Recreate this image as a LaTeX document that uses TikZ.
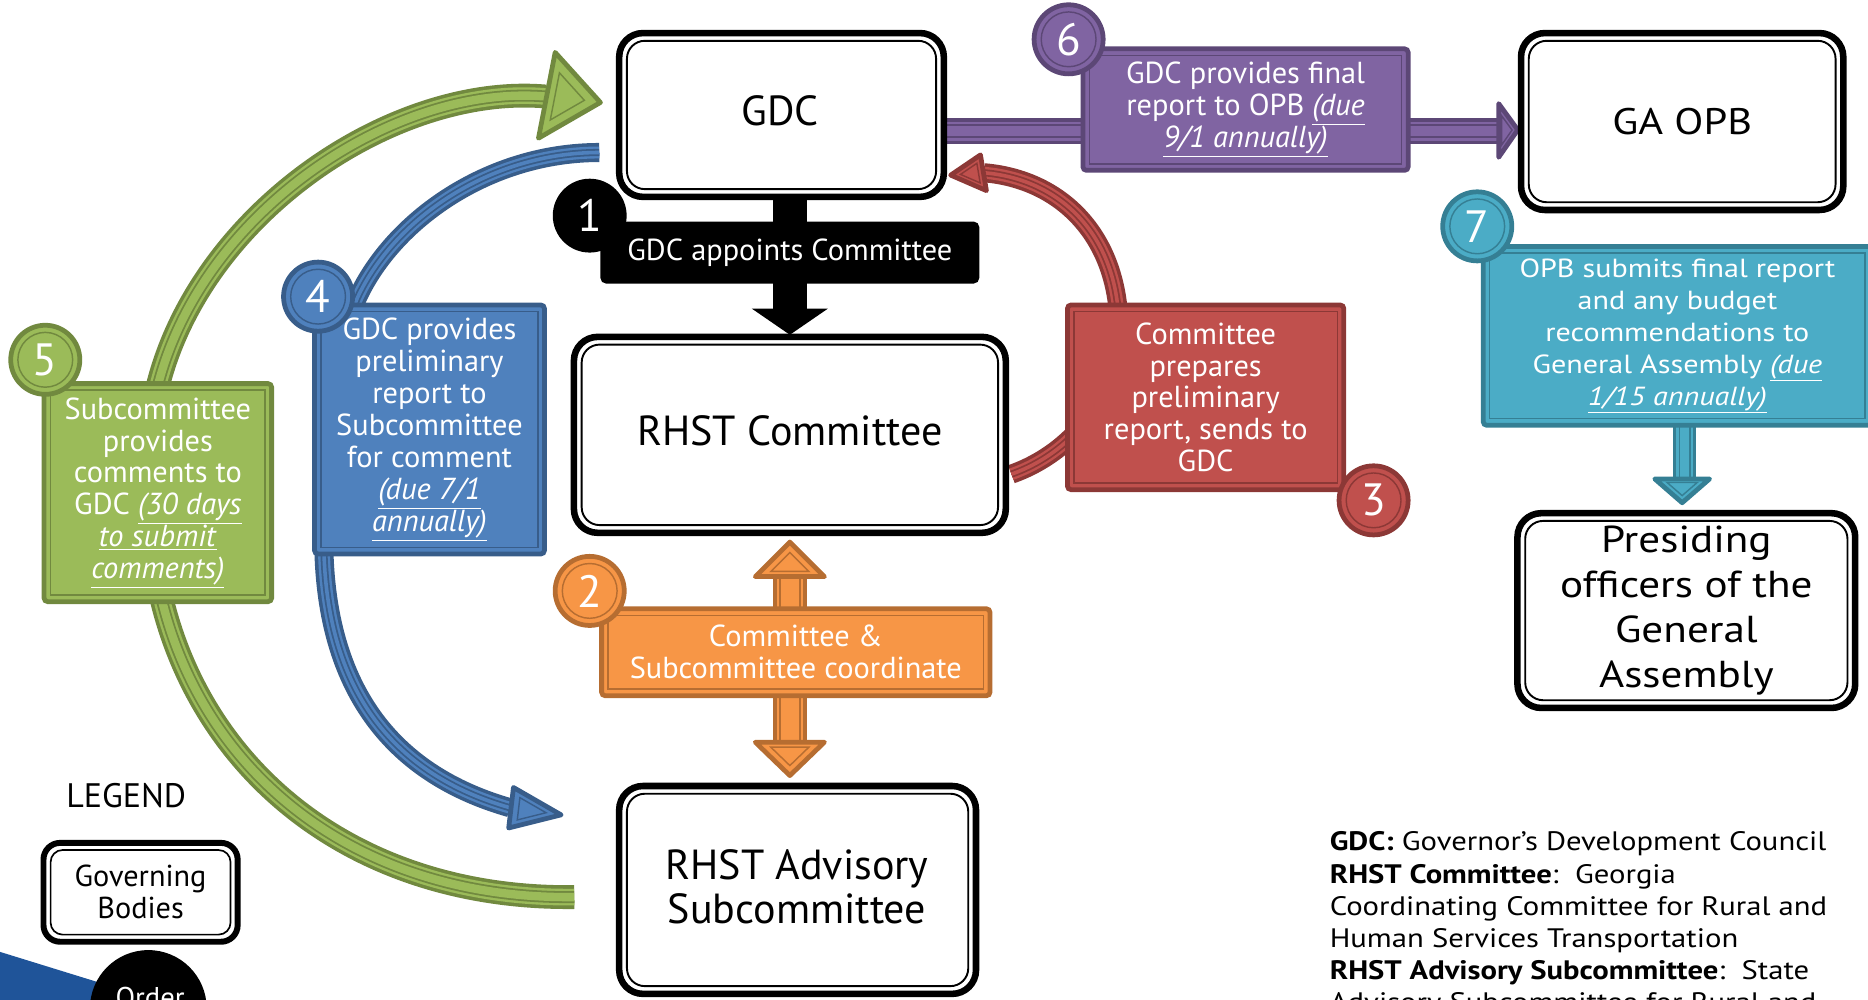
\documentclass[tikz,border=0pt]{standalone}
\usepackage{fontspec}
\setmainfont{PT Sans}
\newfontfamily\widesans{PT Sans}[FakeStretch=1.15]
\usetikzlibrary{calc}
\definecolor{gfill}{HTML}{9BBB59}\definecolor{gdark}{HTML}{71893F}
\definecolor{bfill}{HTML}{4F81BD}\definecolor{bdark}{HTML}{385D8A}
\definecolor{rfill}{HTML}{C0504D}\definecolor{rdark}{HTML}{8C3836}
\definecolor{pfill}{HTML}{8064A2}\definecolor{pdark}{HTML}{5C4776}
\definecolor{ofill}{HTML}{F79646}\definecolor{odark}{HTML}{B66D31}
\definecolor{tfill}{HTML}{4BACC6}\definecolor{tdark}{HTML}{357F94}
\definecolor{wedgeblue}{HTML}{1F5499}
\newcommand\ul[1]{\underline{#1}}
\newcommand\shaft[4]{%
  \draw[#2, line width=#3] #4;
  \draw[#1, line width=#3-6] #4;
  \draw[#2, line width=#3-10] #4;
  \draw[#1, line width=#3-13] #4;}
\newcommand\ahead[5]{%
  \path #3 coordinate (ha) #4 coordinate (hb) #5 coordinate (ht);
  \coordinate (hc) at (barycentric cs:ha=1,hb=1,ht=1);
  \filldraw[fill=#1, draw=#2, line width=4, line join=round] (ha) -- (hb) -- (ht) -- cycle;
  \draw[#2, line width=1.2] ($(hc)!0.55!(ha)$) -- ($(hc)!0.55!(hb)$) -- ($(hc)!0.55!(ht)$) -- cycle;}
\newcommand\wframe[2]{\draw[line width=1.6, rounded corners=#2] ([shift={(6.5,6.5)}]#1.north west) rectangle ([shift={(-6.5,-6.5)}]#1.south east);}
\newcommand\cframe[2]{\draw[#2, line width=1.2] ([shift={(5.5,5.5)}]#1.north west) rectangle ([shift={(-5.5,-5.5)}]#1.south east);}
\newcommand\ring[2]{\draw[#2, line width=1.2] (#1.center) circle (23);}
\begin{document}
\begin{tikzpicture}[x=1pt,y=-1pt,
  wbox/.style={draw=black, line width=5.5, rounded corners=20, fill=white, outer sep=0pt, inner sep=0pt, align=center, font=\fontsize{35.3}{37}\selectfont},
  wtext/.style={inner sep=0pt, align=center, font=\fontsize{35.3}{37}\selectfont},
  cbox/.style 2 args={draw=#2, fill=#1, line width=4, rounded corners=3, outer sep=0pt, inner sep=0pt, align=center, text=white, font=\fontsize{25.5}{26.8}\selectfont},
  badge/.style 2 args={circle, draw=#2, fill=#1, line width=4, minimum size=58, inner sep=0pt, outer sep=0pt, text=white, font=\fontsize{38}{38}\selectfont},
  deftext/.style={anchor=north west, align=left, inner sep=0pt, font=\widesans\fontsize{22.4}{27}\selectfont}]
\useasboundingbox (0,0) rectangle (1568,839);

% ---- connectors (drawn first, under boxes) ----
\coordinate (g0) at (482,753); \coordinate (g1) at (458,81);
\shaft{gfill}{gdark}{20}{(g0) .. controls (300,755) and (170,650) .. (135,500) -- (131,330) .. controls (165,180) and (330,70) .. (g1)}
\ahead{gfill}{gdark}{(466,44)}{(452,116)}{(504,86)}

\coordinate (b0) at (503,128); \coordinate (b1) at (428,678);
\shaft{bfill}{bdark}{16}{(b0) .. controls (410,128) and (330,185) .. (300,250) .. controls (280,300) and (270,400) .. (272,466) .. controls (276,580) and (330,650) .. (b1)}
\ahead{bfill}{bdark}{(431,661)}{(427,695)}{(471,684)}

\coordinate (r0) at (849,398); \coordinate (r1) at (826,145);
\shaft{rfill}{rdark}{16}{(r0) .. controls (900,380) and (945,330) .. (938,255) .. controls (930,190) and (885,150) .. (r1)}
\ahead{rfill}{rdark}{(823,130)}{(828,160)}{(798,147)}

\coordinate (p0) at (795,110); \coordinate (p1) at (1258,110);
\shaft{pfill}{pdark}{22}{(p0) -- (p1)}
\ahead{pfill}{pdark}{(1258,87)}{(1258,132)}{(1274,109)}

\coordinate (o0) at (663,484); \coordinate (o1) at (663,623);
\shaft{ofill}{odark}{28}{(o0) -- (o1)}
\ahead{ofill}{odark}{(634,484)}{(692,484)}{(663,455)}
\ahead{ofill}{odark}{(634,623)}{(692,623)}{(663,651)}

\coordinate (t0) at (1414,355); \coordinate (t1) at (1414,402);
\shaft{tfill}{tdark}{20}{(t0) -- (t1)}
\ahead{tfill}{tdark}{(1389,402)}{(1435,402)}{(1412,422)}

\coordinate (k0) at (663,165); \coordinate (k1) at (663,262);
\draw[black, line width=29] (k0) -- (k1);
\fill[black] (631,259) -- (695,259) -- (663,281) -- cycle;

% ---- white boxes ----
\node[wbox, minimum width=272.5, minimum height=137.5] (gdc) at (656,96.5) {};
\wframe{gdc}{15}
\node[wtext] (gdc-t) at (655,93) {GDC};
\node[wbox, font=\widesans\fontsize{31}{37}\selectfont, minimum width=270.5, minimum height=148.5] (opb) at (1412,102) {GA OPB};
\wframe{opb}{15}
\node[wbox, minimum width=362.5, minimum height=164.5] (rhst) at (663,365) {};
\wframe{rhst}{15}
\node[wtext] (rhst-t) at (663,362) {RHST Committee};
\node[wbox, minimum width=299.5, minimum height=174.5] (adv) at (669.5,747) {};
\wframe{adv}{15}
\node[wtext] (adv-t) at (669,744.5) {RHST Advisory\\Subcommittee};
\node[wbox, font=\widesans\fontsize{31.5}{37.5}\selectfont, minimum width=283.5, minimum height=163.5] (pres) at (1415.5,512.5) {Presiding\\officers of the\\General\\Assembly};
\wframe{pres}{15}

% ---- coloured boxes ----
\node[cbox={black}{black}, minimum width=314, minimum height=48] (appoint) at (663,212) {GDC appoints Committee};
\node[cbox={pfill}{pdark}, minimum width=273, minimum height=102] (final) at (1045.5,92) {GDC provides final\\report to OPB \ul{\textit{(due}}\\\ul{\textit{9/1 annually)}}};
\cframe{final}{pdark}
\node[cbox={rfill}{rdark}, minimum width=232, minimum height=155] (prep) at (1012,333.5) {Committee\\prepares\\preliminary\\report, sends to\\GDC};
\cframe{prep}{rdark}
\node[cbox={bfill}{bdark}, minimum width=193, minimum height=209] (prelim) at (360.5,360.5) {GDC provides\\preliminary\\report to\\Subcommittee\\for comment\\\ul{\textit{(due 7/1}}\\\ul{\textit{annually)}}};
\cframe{prelim}{bdark}
\node[cbox={gfill}{gdark}, minimum width=191, minimum height=183] (comm) at (132.5,413.5) {Subcommittee\\provides\\comments to\\GDC \ul{\textit{(30 days}}\\\ul{\textit{to submit}}\\\ul{\textit{comments)}}};
\cframe{comm}{gdark}
\node[cbox={ofill}{odark}, minimum width=326, minimum height=73] (coord) at (668,547.5) {Committee \&\\Subcommittee coordinate};
\cframe{coord}{odark}
\node[cbox={tfill}{tdark}, font=\widesans\fontsize{22}{26.8}\selectfont, minimum width=326, minimum height=150] (submit) at (1408,282) {OPB submits final report\\and any budget\\recommendations to\\General Assembly \ul{\textit{(due}}\\\ul{\textit{1/15 annually)}}};
\cframe{submit}{tdark}

% ---- badges ----
\node[badge={black}{black}] (n1) at (495,181) {1};
\node[badge={ofill}{odark}] (n2) at (495,496) {2}; \ring{n2}{odark}
\node[badge={rfill}{rdark}] (n3) at (1153,420) {3}; \ring{n3}{rdark}
\node[badge={bfill}{bdark}] (n4) at (267,249) {4}; \ring{n4}{bdark}
\node[badge={gfill}{gdark}] (n5) at (38,302) {5}; \ring{n5}{gdark}
\node[badge={pfill}{pdark}] (n6) at (897,33) {6}; \ring{n6}{pdark}
\node[badge={tfill}{tdark}] (n7) at (1240,190) {7}; \ring{n7}{tdark}

% ---- legend ----
\node[font=\fontsize{28.5}{30}\selectfont, inner sep=0pt] (legend) at (106,668) {LEGEND};
\node[wbox, line width=5, rounded corners=14, font=\fontsize{25.4}{27}\selectfont, minimum width=163, minimum height=83] (gov) at (118,749) {Governing\\Bodies};
\draw[line width=1.4, rounded corners=10] ([shift={(6,6)}]gov.north west) rectangle ([shift={(-6,-6)}]gov.south east);
\fill[wedgeblue] (0,799) -- (110,833) -- (110,845) -- (0,845) -- cycle;
\node[circle, fill=black, minimum size=98, inner sep=0pt] (order) at (124.5,846.5) {};
\node[text=white, font=\fontsize{24}{24}\selectfont, inner sep=0pt, anchor=base] (ordertxt) at (126,846) {Order};

\node[deftext] (defs) at (1116,698) {\textbf{GDC:} Governor’s Development Council\\
\textbf{RHST Committee}:\ \ Georgia\\
Coordinating Committee for Rural and\\
Human Services Transportation\\
\textbf{RHST Advisory Subcommittee}:\ \ State\\
Advisory Subcommittee for Rural and};
\end{tikzpicture}
\end{document}
